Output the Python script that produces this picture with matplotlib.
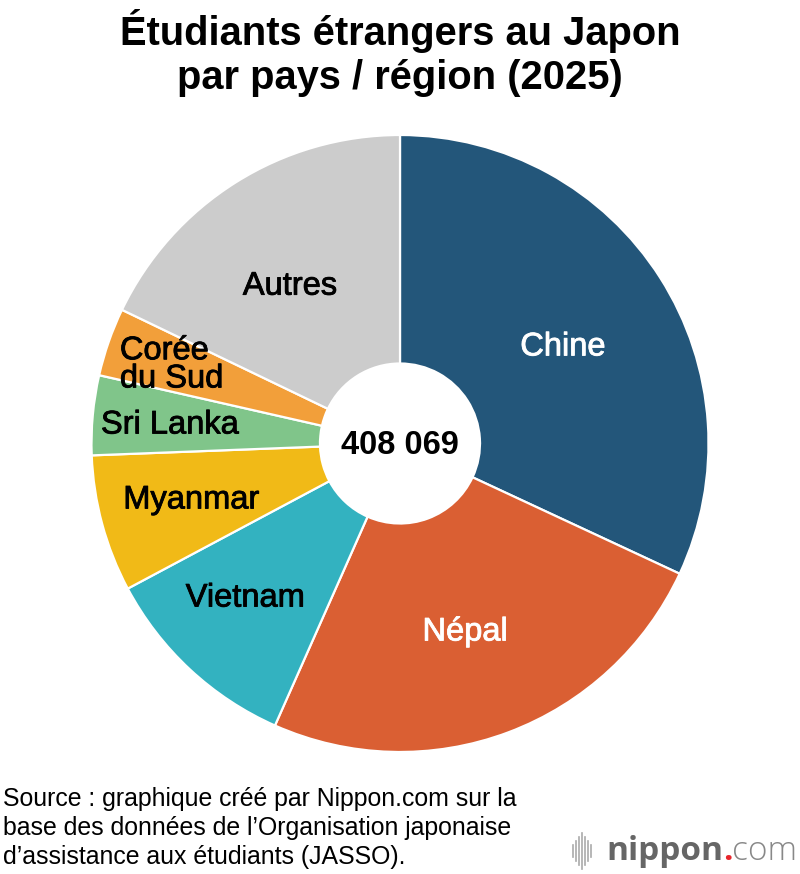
import matplotlib
matplotlib.use("Agg")
import matplotlib.pyplot as plt
import matplotlib.patheffects as pe
from matplotlib.lines import Line2D

# ---- data ----
categories = ["Chine", "Népal", "Vietnam", "Myanmar", "Sri Lanka", "Corée\ndu Sud", "Autres"]
values = [130300, 100800, 43100, 29300, 17000, 14600, 72900]
colors = ["#23567A", "#DA5F33", "#33B2C0", "#F1BA17", "#80C58A", "#F29F3A", "#CCCCCC"]
label_colors = ["white", "white", "black", "black", "black", "black", "black"]
total_label = "408 069"
title = "Étudiants étrangers au Japon\npar pays / région (2025)"
source = ("Source : graphique créé par Nippon.com sur la\n"
          "base des données de l’Organisation japonaise\n"
          "d’assistance aux étudiants (JASSO).")

SANS = "Liberation Sans"

W, H = 800, 874
fig = plt.figure(figsize=(W / 100, H / 100), dpi=100)

cx, cy, R = 400, 443.5, 308.5
ax = fig.add_axes([(cx - R) / W, (H - cy - R) / H, 2 * R / W, 2 * R / H])

ax.pie(values, colors=colors, startangle=90, counterclock=False, radius=1,
       wedgeprops=dict(width=1 - 80 / R, edgecolor="white", linewidth=1.6))
ax.set_xlim(-1, 1)
ax.set_ylim(-1, 1)
ax.set_aspect("equal")
ax.axis("off")

# label positions (axes data coords)
label_pos = [(0.528, 0.313), (0.211, -0.611), (-0.502, -0.501), (-0.677, -0.183),
             (-0.746, 0.060), (-0.908, 0.255), (-0.357, 0.510)]
for lab, (x, y), c in zip(categories, label_pos, label_colors):
    ha = "left" if "\n" in lab else "center"
    ax.text(x, y, lab, ha=ha, va="center", color=c, fontsize=23.5,
            family=SANS, linespacing=0.88, multialignment="left",
            path_effects=[pe.withStroke(linewidth=0.6, foreground=c)])

ax.text(0, -0.005, total_label, ha="center", va="center", fontsize=23.5,
        fontweight="bold", family=SANS, color="black")

fig.text(0.5, 1 - 53 / H, title, ha="center", va="center", fontsize=28.7,
         fontweight="bold", family=SANS, linespacing=1.18)

fig.text(3 / W, 1 - 828 / H, source, ha="left", va="center", fontsize=17.9,
         family=SANS, linespacing=1.26)

# nippon.com logo
bar_x = [573, 576, 579, 582, 585, 588, 591]
bar_h = [6, 10, 14, 18, 14, 10, 6]
for bx, bh in zip(bar_x, bar_h):
    fig.add_artist(Line2D([bx / W, bx / W], [(H - 851 - bh) / H, (H - 851 + bh) / H],
                          color="#AAAAAA", linewidth=1.2))
t1 = fig.text(606 / W, 1 - 860 / H, "nippon", ha="left", va="baseline",
              fontsize=24, fontweight="bold", family="Open Sans", color="#666666")
fig.canvas.draw()
bb = t1.get_window_extent()
t2 = fig.text(bb.x1 / W, 1 - 860 / H, ".", ha="left", va="baseline",
              fontsize=24, fontweight="bold", family="Open Sans", color="#E8262C")
bb2 = t2.get_window_extent()
fig.text(bb2.x1 / W, 1 - 860 / H, "com", ha="left", va="baseline",
         fontsize=24, fontweight="light", family="Open Sans", color="#888888")

fig.savefig("out.png", dpi=100, facecolor="white")
